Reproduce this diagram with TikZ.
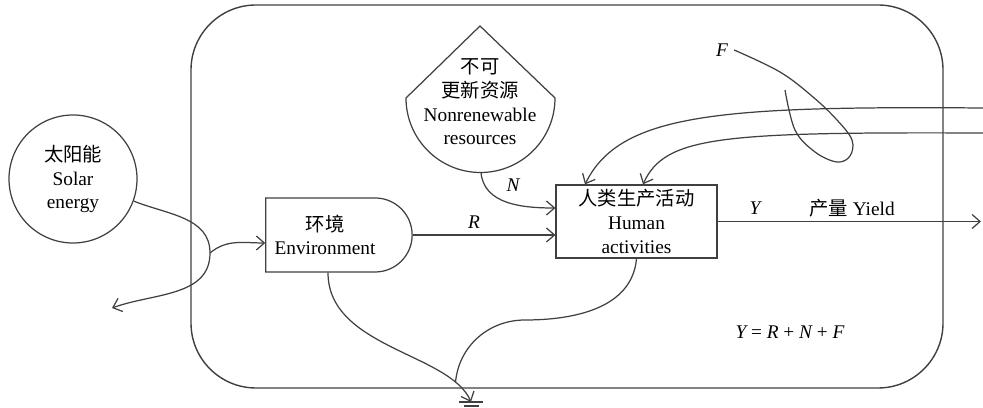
\documentclass[tikz,border=0pt]{standalone}
\usepackage{fontspec}
\setmainfont{Liberation Serif}
\newfontfamily\cjk{Noto Sans CJK SC}
\usepackage{tikz}
\usetikzlibrary{arrows.meta, positioning, shapes.misc}
\tikzset{
    sysbox/.style={rectangle, rounded corners=1.3cm, minimum width=15.04cm, minimum height=7.66cm,
        draw=black!75, line width=0.8pt},
    sourcebox/.style={circle, minimum size=2.56cm, inner sep=0pt, align=center,
        draw=black!75, line width=0.7pt},
    envbox/.style={rounded rectangle, rounded rectangle left arc=none, minimum width=3.16cm,
        minimum height=1.48cm, draw=black!75, line width=0.7pt},
    actbox/.style={rectangle, minimum width=3.22cm, minimum height=1.46cm, inner sep=0pt,
        align=center, draw=black!75, line width=0.7pt},
    flowline/.style={draw=black!75, line width=0.7pt},
    flow/.style={flowline, -{Straight Barb[length=1.6mm, width=2.8mm]}},
    varlabel/.style={font=\fontsize{11}{13.5}\selectfont\itshape},
}

\begin{document}
\begin{tikzpicture}[x=0.2mm, y=0.2mm, font=\fontsize{11}{13.5}\selectfont]
    \useasboundingbox (0,0) rectangle (983,408);
    % system boundary
    \node[sysbox] (system) at (567,211.5) {};

    % sources, stores and activity
    \node[sourcebox] (sun) at (73,229) {{\cjk 太阳能}\\Solar\\energy};
    \node[envbox] (env) at (339,173) {};
    \node[align=center] (envtext) at (325,173) {{\cjk 环境}\\Environment};
    \draw[flowline] (480,382) -- (555,310) arc[start angle=0, end angle=-180, radius=1.49cm] -- cycle;
    \node[align=center] (nonren) at (480,306) {{\cjk 不可}\\{\cjk 更新资源}\\Nonrenewable\\resources};
    \node[actbox] (human) at (636.5,186.5) {{\cjk 人类生产活动}\\Human\\activities};

    % free ends
    \coordinate (nrbot) at (481,235.5);
    \coordinate (turn) at (210,155);
    \coordinate (solarout) at (112,100);
    \coordinate (inA) at (983,300);
    \coordinate (inB) at (983,275);
    \coordinate (yieldout) at (981,186.5);
    \coordinate (ground) at (471,6);

    % solar energy
    \draw[flow] (sun.-20) to[out=-22, in=90] (turn) to[out=-90, in=20] (solarout);
    \draw[flow] (turn) to[out=40, in=180] ([yshift=-1.6mm]env.west);

    % inflows to human activities
    \draw[flow] (env.east) -- node[varlabel, above, pos=0.43] {R} (env.east -| human.west);
    \draw[flow] (nrbot) to[out=-85, in=180] ([yshift=2.7mm]human.west);
    \node[varlabel] (nlab) at (513,223) {N};
    \draw[flow] (inA) .. controls (720,302) and (620,295) .. ([xshift=-10.3mm]human.north);
    \draw[flow] (inB) .. controls (720,276) and (665,272) .. ([xshift=1.3mm]human.north);

    % purchased input
    \node[varlabel] (flab) at (722,358) {F};
    \draw[flowline] plot[smooth, tension=0.6] coordinates {(flab.east) (780,336) (813,311) (837,288)
        (852,268) (850,252) (837,246) (815,256) (795,278) (785,318)};

    % yield
    \draw[flow] (human.east) -- (yieldout);
    \node[varlabel] (ylab) at (755,200) {Y};
    \node (yield) at (852,200) {{\cjk 产量} Yield};

    % losses
    \draw[flow] ([xshift=-2.2mm]env.south) .. controls (328,60) and (450,55) .. (ground) coordinate[pos=0.85] (merge);
    \draw[flowline] (human.south) to[out=-95, in=0] (525,88) to[out=180, in=85] (merge);
    \draw[flowline] ([xshift=-2.4mm]ground) -- ([xshift=2.4mm]ground);
    \draw[flowline] ([xshift=-1.5mm, yshift=-0.8mm]ground) -- ([xshift=1.5mm, yshift=-0.8mm]ground);

    \node (balance) at (790,76) {{\itshape Y} = {\itshape R} + {\itshape N} + {\itshape F}};
\end{tikzpicture}
\end{document}
